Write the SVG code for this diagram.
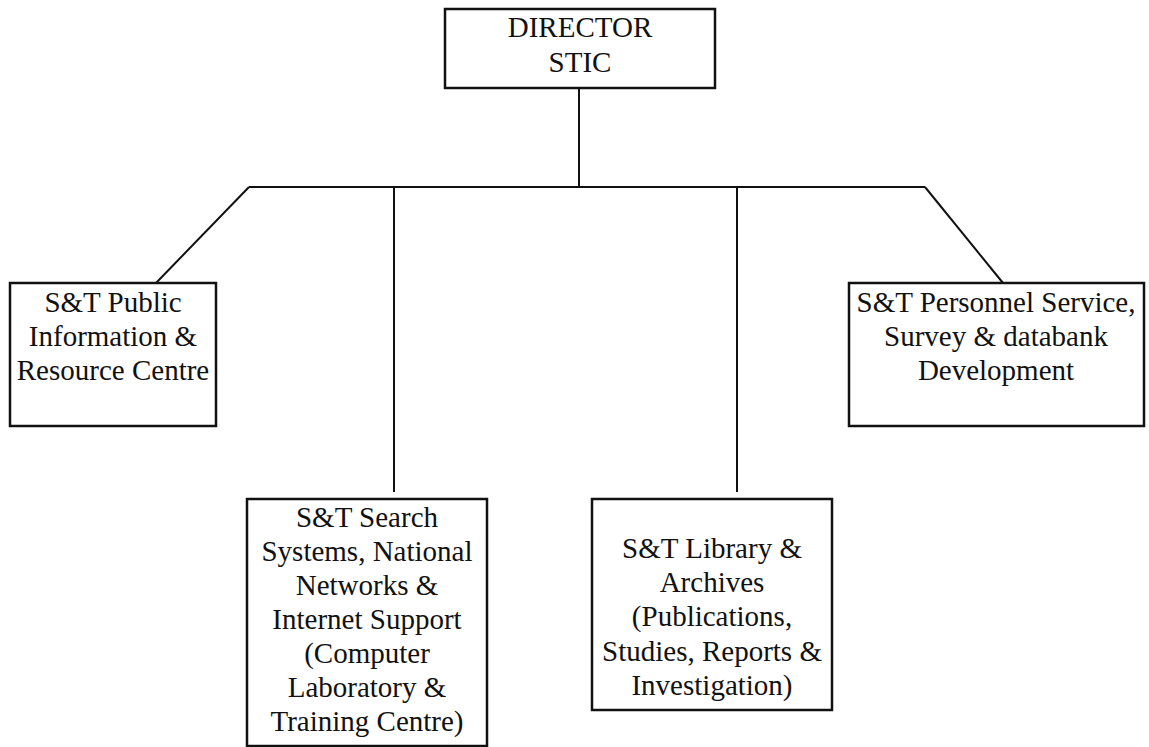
<svg xmlns="http://www.w3.org/2000/svg" width="1149" height="747" viewBox="0 0 1149 747">
  <style>
    .box { fill: #ffffff; stroke: #111111; stroke-width: 2.5; }
    .link { fill: none; stroke: #111111; stroke-width: 2; }
    text { font-family: "Liberation Serif", "Times New Roman", serif; font-size: 29px; fill: #111111; text-anchor: middle; }
  </style>
  <rect width="1149" height="747" fill="#ffffff"/>

  <!-- connectors -->
  <g id="connectors">
    <line class="link" x1="579" y1="88" x2="579" y2="187"/>
    <line class="link" x1="249" y1="187" x2="925" y2="187"/>
    <line class="link" x1="249" y1="187" x2="156" y2="283"/>
    <line class="link" x1="925" y1="187" x2="1003" y2="283"/>
    <line class="link" x1="394" y1="187" x2="394" y2="492"/>
    <line class="link" x1="737" y1="187" x2="737" y2="492"/>
  </g>

  <g id="director">
    <rect class="box" x="445" y="9" width="270" height="79"/>
    <text x="580" y="37">DIRECTOR</text>
    <text x="580" y="72">STIC</text>
  </g>

  <g id="public-info">
    <rect class="box" x="10" y="283" width="206" height="143"/>
    <text x="113" y="312">S&amp;T Public</text>
    <text x="113" y="346">Information &amp;</text>
    <text x="113" y="380">Resource Centre</text>
  </g>

  <g id="personnel">
    <rect class="box" x="849" y="283" width="295" height="143"/>
    <text x="996" y="312">S&amp;T Personnel Service,</text>
    <text x="996" y="346">Survey &amp; databank</text>
    <text x="996" y="380">Development</text>
  </g>

  <g id="search-systems">
    <rect class="box" x="247" y="499" width="240" height="247"/>
    <text x="367" y="527">S&amp;T Search</text>
    <text x="367" y="561">Systems, National</text>
    <text x="367" y="595">Networks &amp;</text>
    <text x="367" y="629">Internet Support</text>
    <text x="367" y="663">(Computer</text>
    <text x="367" y="697">Laboratory &amp;</text>
    <text x="367" y="731">Training Centre)</text>
  </g>

  <g id="library">
    <rect class="box" x="592" y="499" width="240" height="211"/>
    <text x="712" y="558">S&amp;T Library &amp;</text>
    <text x="712" y="592">Archives</text>
    <text x="712" y="626">(Publications,</text>
    <text x="712" y="661">Studies, Reports &amp;</text>
    <text x="712" y="695">Investigation)</text>
  </g>
</svg>
